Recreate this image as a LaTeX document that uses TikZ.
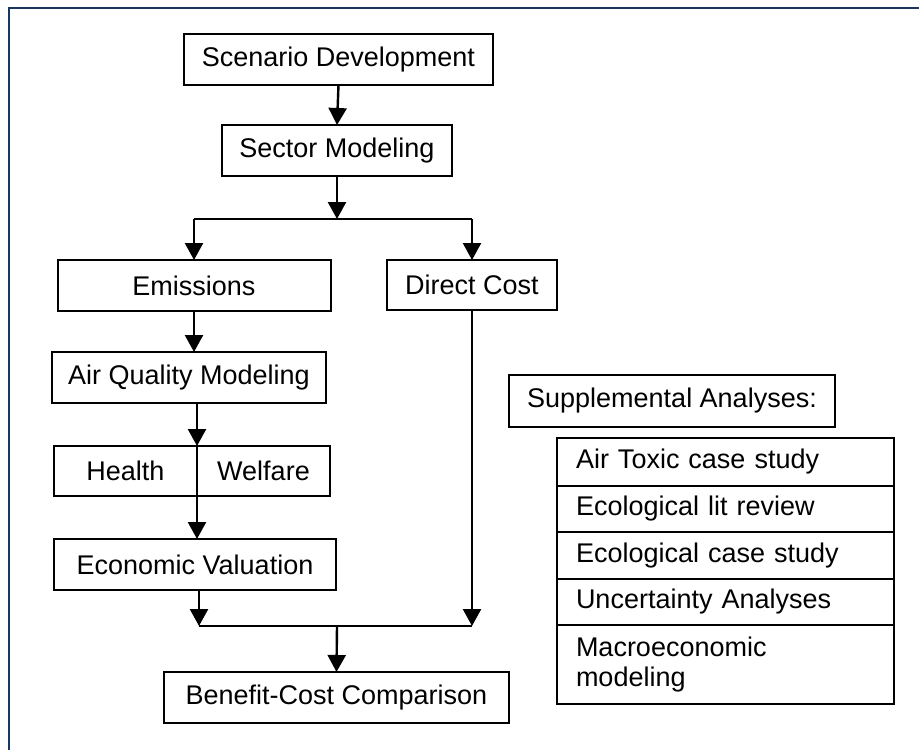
\documentclass[tikz,border=0pt]{standalone}
\usepackage{fontspec}
\setmainfont{Liberation Sans}
\usetikzlibrary{arrows.meta}
\definecolor{frameblue}{RGB}{23,55,94}
\begin{document}
\begin{tikzpicture}[x=1pt,y=-1pt]
          \tikzstyle{every node}=[draw,line width=2pt,inner sep=0pt,outer sep=0pt,minimum height=51pt,font=\fontsize{27}{30}\selectfont];
          \tikzstyle{flow}=[line width=2.4pt,-{Triangle[width=18pt,length=17pt]}];
          \tikzstyle{rowbox}=[anchor=north west,text width=299pt,inner xsep=19pt,align=left];
          %frame, cut at the right and bottom edges
          \clip (0,0) rectangle (919,750);
          \fill[white] (0,0) rectangle (919,750);
          \draw[frameblue,line width=2.5pt] (9,8) rectangle (960,790);
          %\node (name) at (x,y) [minimum width=w] {text};
          \node (scen) at (338.5,59.5) [minimum width=309pt] {Scenario Development};
          \node (sector) at (337,150.5) [minimum width=230pt] {Sector Modeling};
          \node (emis) at (194,285.5) [minimum width=273pt] {Emissions};
          \node (direct) at (472,285) [minimum width=170pt,minimum height=50pt] {Direct Cost};
          \node (aqm) at (189,377.5) [minimum width=274pt] {Air Quality Modeling};
          \node (health) at (125.5,471) [minimum width=143pt,minimum height=50pt] {Health};
          \node (welfare) at (263.5,471) [minimum width=133pt,minimum height=50pt] {Welfare};
          \node (econ) at (195,564.5) [minimum width=282pt] {Economic Valuation};
          \node (bcc) at (336.5,697.5) [minimum width=345pt] {Benefit-Cost Comparison};
          %supplemental list
          \node (supp) at (672,401) [minimum width=326pt,minimum height=52pt] {Supplemental Analyses:};
          \node (r1) at (557,438) [rowbox,minimum height=48pt] {Air Toxic case study};
          \node (r2) at (r1.south west) [rowbox,minimum height=46pt] {Ecological lit review};
          \node (r3) at (r2.south west) [rowbox,minimum height=47pt] {Ecological case study};
          \node (r4) at (r3.south west) [rowbox,minimum height=46pt] {Uncertainty Analyses};
          \node (r5) at (r4.south west) [rowbox,minimum height=79pt] {Macroeconomic\\modeling};
          %split and join points
          \coordinate (split) at (337,219);
          \coordinate (lsplit) at (194,219);
          \coordinate (rsplit) at (472,219);
          \coordinate (ljoin) at (199,626);
          \coordinate (join) at (337,626);
          \coordinate (rjoin) at (472,626);
          \draw[flow] (scen.south) -- (sector.north);
          \draw[flow] (sector.south) -- (split);
          \draw[line width=2.4pt] (lsplit) -- (rsplit);
          \draw[flow] (lsplit) -- (emis.north);
          \draw[flow] (rsplit) -- (direct.north);
          \draw[flow] (emis.south) -- (emis.south |- aqm.north);
          \draw[flow] (health.north east |- aqm.south) -- (health.north east);
          \draw[flow] (health.south east) -- (health.south east |- econ.north);
          \draw[flow] (ljoin |- econ.south) -- (ljoin);
          \draw[flow] (direct.south) -- (rjoin);
          \draw[line width=2.4pt] (ljoin) -- (rjoin);
          \draw[flow] (join) -- (bcc.north);
\end{tikzpicture}
\end{document}
